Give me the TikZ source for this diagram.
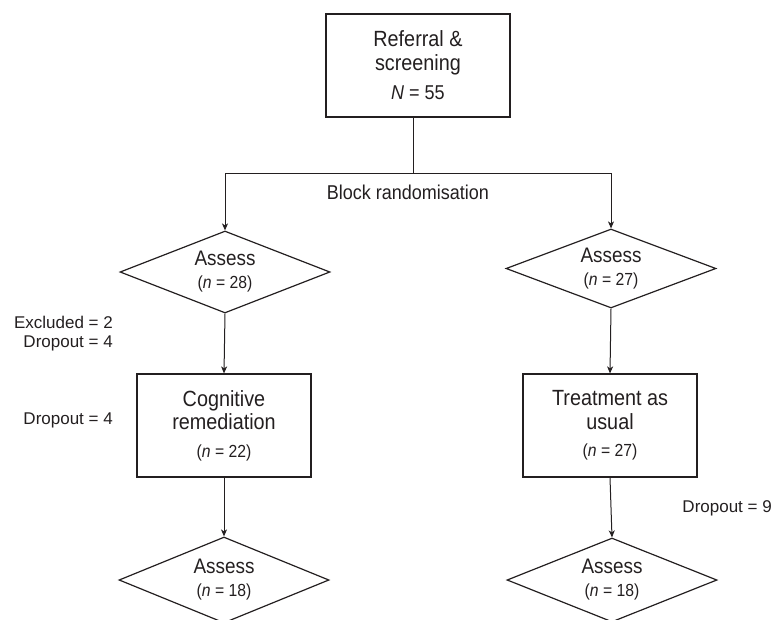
\documentclass[tikz,border=0pt]{standalone}
\usepackage{fontspec}
\setmainfont{Liberation Sans}[FakeStretch=0.9]
\newfontfamily\lblfont{Liberation Sans}
\usetikzlibrary{shapes.geometric,arrows.meta}
\definecolor{ink}{HTML}{231F20}
\begin{document}
\begin{tikzpicture}[x=1pt,y=-1pt,
  every node/.style={text=ink},
  boxnode/.style={draw=ink,line width=1.2pt,rectangle,minimum width=174pt,minimum height=103pt,align=center,inner sep=0pt,font=\fontsize{22}{23.5}\selectfont},
  dia/.style={draw=ink,line width=1.2pt,diamond,aspect=2.5,minimum width=210pt,minimum height=82pt,inner sep=0pt,align=center,font=\fontsize{21}{23}\selectfont},
  conn/.style={draw=ink,line width=1pt},
  arr/.style={conn,-{Stealth[length=7pt,width=6pt,inset=2pt]}},
  lbl/.style={font=\lblfont\fontsize{17}{20}\selectfont,inner sep=0pt}
]
\useasboundingbox (0,0) rectangle (774,619);
\clip (0,0) rectangle (774,619);
\newcommand{\nsmall}[1]{{\fontsize{17.5}{20}\selectfont(\textit{n} = #1)}}

\node[boxnode,minimum width=184pt] (top) at (418,65.5) {Referral \&\\screening\\[6pt]{\fontsize{20}{22}\selectfont\textit{N} = 55}};

\coordinate (split) at (413,173);
\coordinate (L) at (225,173);
\coordinate (R) at (611,173);

\node[dia] (dL) at (225,272) {Assess\\\nsmall{28}};
\node[dia,minimum height=79pt] (dR) at (611,268.5) {Assess\\\nsmall{27}};

\node[boxnode] (bL) at (224,425.5) {Cognitive\\remediation\\[4pt]\nsmall{22}};
\node[boxnode] (bR) at (610,425.5) {Treatment as\\usual\\[4pt]\nsmall{27}};

\node[dia,minimum height=86pt] (dL2) at (224,580) {Assess\\\nsmall{18}};
\node[dia,minimum height=84pt] (dR2) at (612,580) {Assess\\\nsmall{18}};

\draw[conn] (split |- top.south) -- (split);
\draw[conn] (L) -- (R);
\draw[arr] (L) -- (dL.north);
\draw[arr] (R) -- (dR.north);
\draw[arr] (dL.south) -- (bL.north);
\draw[arr] (dR.south) -- (bR.north);
\draw[arr] (bL.south) -- (dL2.north);
\draw[arr] (bR.south) -- (dR2.north);

\node[inner sep=0pt,font=\fontsize{20}{22}\selectfont] (block) at (408,192) {Block randomisation};
\node[lbl,anchor=east] (exc) at (113,322) {Excluded = 2};
\node[lbl,anchor=east] (drop1) at (113,343) {Dropout = 4};
\node[lbl,anchor=east] (drop2) at (113,420) {Dropout = 4};
\node[lbl,anchor=east] (drop3) at (772,508) {Dropout = 9};
\end{tikzpicture}
\end{document}
